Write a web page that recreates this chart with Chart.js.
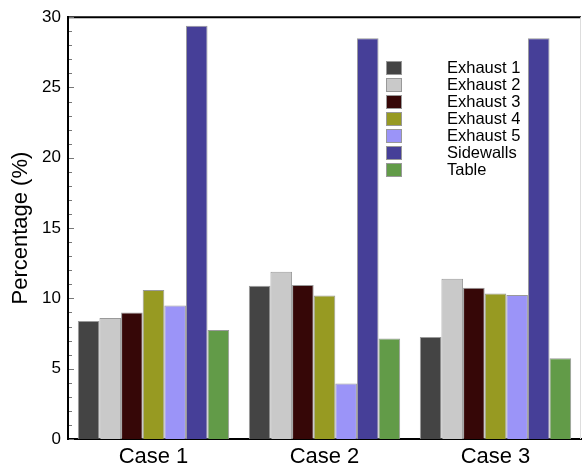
<!DOCTYPE html>
<html>
<head>
<meta charset="utf-8">
<script src="https://cdn.jsdelivr.net/npm/chart.js@4"></script>
<style>
    body { margin: 0; background: #ffffff; }
    #wrap { width: 582px; height: 470px; position: relative; }
</style>
</head>
<body>
<div id="wrap"><canvas id="barChart"></canvas></div>
<script>
const cases = ['Case 1', 'Case 2', 'Case 3'];
const seriesNames = ['Exhaust 1', 'Exhaust 2', 'Exhaust 3', 'Exhaust 4', 'Exhaust 5', 'Sidewalls', 'Table'];
const exhaust1 = [8.4, 10.9, 7.25];
const exhaust2 = [8.6, 11.9, 11.4];
const exhaust3 = [9.0, 10.95, 10.75];
const exhaust4 = [10.6, 10.2, 10.35];
const exhaust5 = [9.5, 3.95, 10.25];
const sidewalls = [29.4, 28.5, 28.5];
const table = [7.75, 7.15, 5.75];
const yTicks = [0, 5, 10, 15, 20, 25, 30];

const seriesValues = [exhaust1, exhaust2, exhaust3, exhaust4, exhaust5, sidewalls, table];
const seriesColors = ['#444444', '#c9c9c9', '#360707', '#979a22', '#9b94f8', '#463f98', '#629b48'];

const FONT = 'Arial, "Liberation Sans", sans-serif';

// frame, minor ticks and the legend inside the plot
const framePlugin = {
    id: 'frame',
    afterDatasetsDraw(chart) {
        const c = chart.ctx;
        const a = chart.chartArea;
        const y = chart.scales.y;
        c.save();
        // top line
        c.strokeStyle = '#000';
        c.lineWidth = 2;
        c.beginPath();
        c.moveTo(a.left - 1, a.top);
        c.lineTo(a.right, a.top);
        c.stroke();
        // right edge
        c.strokeStyle = '#dddddd';
        c.lineWidth = 1;
        c.beginPath();
        c.moveTo(a.right - 0.5, a.top);
        c.lineTo(a.right - 0.5, a.bottom);
        c.stroke();
        // inward ticks on the y axis
        c.strokeStyle = '#777';
        c.lineWidth = 1;
        for (let v = y.min; v <= y.max; v++) {
            const py = Math.round(y.getPixelForValue(v)) + 0.5;
            const len = (v % 5 === 0) ? 5 : 3;
            c.beginPath();
            c.moveTo(a.left + 1, py);
            c.lineTo(a.left + 1 + len, py);
            c.stroke();
        }
        // legend
        c.font = '16.5px ' + FONT;
        c.textBaseline = 'middle';
        c.textAlign = 'left';
        chart.data.datasets.forEach(function(ds, i) {
            const top = 61 + i * 17;
            c.fillStyle = ds.backgroundColor;
            c.fillRect(386, top, 16, 14);
            c.strokeStyle = '#999';
            c.strokeRect(386.5, top + 0.5, 15, 13);
            c.fillStyle = '#000';
            c.fillText(ds.label, 447, top + 7.5);
        });
        c.restore();
    }
};

document.addEventListener('DOMContentLoaded', function() {
    const ctx = document.getElementById('barChart').getContext('2d');
    const barChart = new Chart(ctx, {
        type: 'bar',
        data: {
            labels: cases,
            datasets: seriesNames.map(function(name, i) {
                return {
                    label: name,
                    data: seriesValues[i],
                    backgroundColor: seriesColors[i],
                    borderColor: '#9a9a9a',
                    borderWidth: 1,
                    categoryPercentage: 0.885,
                    barPercentage: 1
                };
            })
        },
        options: {
            responsive: true,
            maintainAspectRatio: false,
            animation: false,
            layout: {
                padding: { top: 16, right: 1, left: 0, bottom: 0 }
            },
            plugins: {
                legend: { display: false },
                tooltip: { enabled: false }
            },
            scales: {
                x: {
                    grid: { display: false, drawTicks: false },
                    border: { display: true, color: '#000', width: 2 },
                    ticks: {
                        color: '#000',
                        padding: 5,
                        font: { family: FONT, size: 22 }
                    },
                    afterFit: function(scale) { scale.height = 31; }
                },
                y: {
                    min: 0,
                    max: 30,
                    afterBuildTicks: function(scale) {
                        scale.ticks = yTicks.map(function(v) { return { value: v }; });
                    },
                    grid: { display: false, drawTicks: false },
                    border: { display: true, color: '#000', width: 2 },
                    ticks: {
                        color: '#000',
                        padding: 7,
                        font: { family: FONT, size: 17 }
                    },
                    title: {
                        display: true,
                        text: 'Percentage (%)',
                        color: '#000',
                        padding: { top: 8, bottom: 0 },
                        font: { family: FONT, size: 22 }
                    },
                    afterFit: function(scale) { scale.width = 68; }
                }
            }
        },
        plugins: [framePlugin]
    });
});
</script>
</body>
</html>
